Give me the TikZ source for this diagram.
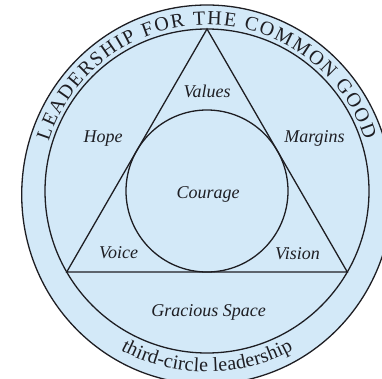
\documentclass[tikz,border=0pt]{standalone}
\usepackage{fontspec}
\setmainfont{Liberation Serif}
\usetikzlibrary{decorations.text}
\definecolor{ringblue}{RGB}{211,233,248}
\definecolor{inkline}{RGB}{30,30,35}
\begin{document}
\begin{tikzpicture}[x=1pt,y=1pt,
  outline/.style={draw=inkline,line width=1.3pt},
  lbl/.style={font=\fontsize{18}{18}\selectfont\itshape, text=inkline, inner sep=0pt, anchor=base}]
\useasboundingbox (0,0) rectangle (382,378);
\clip (0,0) rectangle (382,378);
\coordinate (C) at (207,187);
\coordinate (E) at (207,183.4);
\fill[ringblue] (E) ellipse [x radius=185.3, y radius=189.6];
\draw[outline] (E) ellipse [x radius=185.3, y radius=189.6];
\draw[outline] (C) circle [radius=162];
\coordinate (A) at ([shift={(90:162)}]C);
\coordinate (BL) at ([shift={(210:162)}]C);
\coordinate (BR) at ([shift={(330:162)}]C);
\draw[outline, line join=miter] (A) -- (BL) -- (BR) -- cycle;
\draw[outline] (C) circle [radius=81];
\node[lbl] (values) at (207,280) {Values};
\node[lbl] (hope) at (103,236) {Hope};
\node[lbl] (margins) at (314.5,236) {Margins};
\node[lbl] (courage) at (208,180) {Courage};
\node[lbl] (voice) at (118.5,120) {Voice};
\node[lbl] (vision) at (297.5,119) {Vision};
\node[lbl] (gracious) at (208.5,62) {Gracious Space};
\path[decorate, decoration={text along path, text color=inkline,
  text={|\fontsize{20}{20}\selectfont|LEADERSHIP FOR THE COMMON GOOD},
  text align={fit to path}}]
  ([shift={(162.5:166)}]C) arc[start angle=162.5, end angle=18, radius=166];
\path[decorate, decoration={text along path, text color=inkline,
  text={|\fontsize{20}{20}\selectfont|third-circle leadership},
  text align={fit to path}}]
  ([shift={(-118.5:181)}]C) arc[start angle=-118.5, end angle=-61.5, radius=181];
\end{tikzpicture}
\end{document}
